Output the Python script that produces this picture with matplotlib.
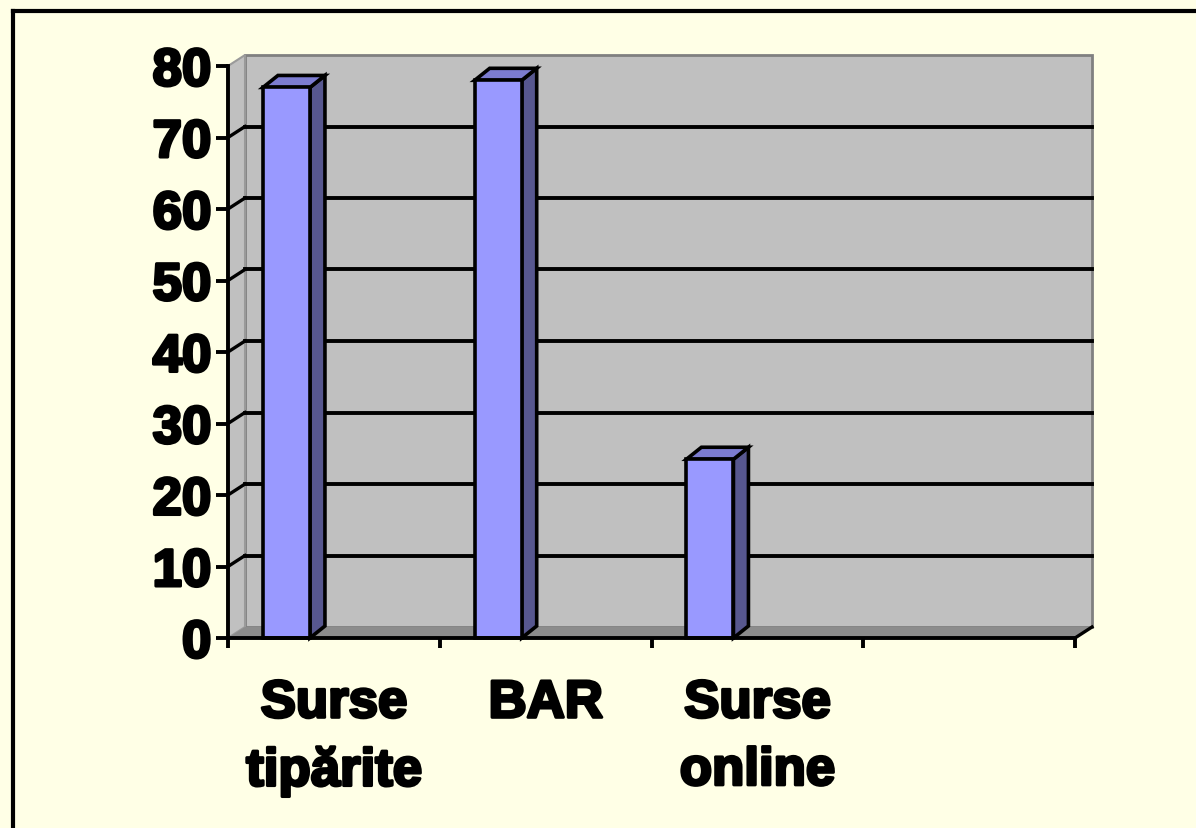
import matplotlib
matplotlib.use("Agg")
import matplotlib.pyplot as plt
import matplotlib.patheffects as pe
from matplotlib.patches import Polygon, Rectangle
from matplotlib.lines import Line2D

categories = ["Surse\ntipărite", "BAR", "Surse\nonline", ""]
values = [77, 78, 25]
y_ticks = [0, 10, 20, 30, 40, 50, 60, 70, 80]

BG = "#FFFFE6"
WALL = "#C0C0C0"
FLOOR = "#8C8C8C"
FRONT = "#9999FF"
SIDE = "#57578F"
TOP = "#7C7CD0"

W, H = 1196, 829
fig = plt.figure(figsize=(W / 100, H / 100), dpi=100, facecolor=BG)
ax = fig.add_axes([228 / W, 1 - 639 / H, (1075 - 228) / W, (639 - 67) / H])
ax.set_facecolor("none")
ax.set_xlim(0, 4)
ax.set_ylim(0, 80)

# depth offsets (data units)
wdx, wdy = 17 / 211.75, 11 / 7.15
bdx, bdy = 15 / 211.75, 12 / 7.15

# walls and floor
ax.add_patch(Polygon([(wdx, wdy), (4 + wdx, wdy), (4 + wdx, 80 + wdy), (wdx, 80 + wdy)],
                     closed=True, facecolor=WALL, edgecolor="#808080", lw=2,
                     clip_on=False, zorder=1))
ax.add_patch(Polygon([(0, 0), (wdx, wdy), (wdx, 80 + wdy), (0, 80)],
                     closed=True, facecolor=WALL, edgecolor="#9a9a9a", lw=1.5,
                     clip_on=False, zorder=1))
ax.add_patch(Polygon([(0, 0), (4, 0), (4 + wdx, wdy), (wdx, wdy)],
                     closed=True, facecolor=FLOOR, edgecolor="none",
                     clip_on=False, zorder=1.5))

# gridlines on back wall and left wall
for v in y_ticks[1:-1]:
    ax.plot([wdx, 4 + wdx], [v + wdy, v + wdy], color="black", lw=2.8,
            clip_on=False, zorder=2)
    ax.plot([0, wdx], [v, v + wdy], color="black", lw=2.4,
            clip_on=False, zorder=2)
ax.plot([4, 4 + wdx], [0, wdy], color="black", lw=2.4, clip_on=False, zorder=2)

# 3D bars
offset, width = 0.165, 0.222
for i, v in enumerate(values):
    x0 = i + offset
    x1 = x0 + width
    ax.add_patch(Polygon([(x1, 0), (x1 + bdx, bdy), (x1 + bdx, v + bdy), (x1, v)],
                         closed=True, facecolor=SIDE, edgecolor="black", lw=2.6,
                         clip_on=False, zorder=3))
    ax.add_patch(Polygon([(x0, v), (x1, v), (x1 + bdx, v + bdy), (x0 + bdx, v + bdy)],
                         closed=True, facecolor=TOP, edgecolor="black", lw=2.6,
                         clip_on=False, zorder=3))
    ax.add_patch(Rectangle((x0, 0), width, v, facecolor=FRONT, edgecolor="black",
                           lw=2.6, clip_on=False, zorder=4))

# axes
for s in ["top", "right"]:
    ax.spines[s].set_visible(False)
for s in ["left", "bottom"]:
    ax.spines[s].set_linewidth(2.8)
    ax.spines[s].set_zorder(5)

font = dict(family="Liberation Sans", weight="bold", size=38)
heavy = [pe.withStroke(linewidth=2.2, foreground="black")]

ax.set_yticks(y_ticks)
ax.set_yticklabels([str(t) for t in y_ticks], fontdict=font)
ax.tick_params(axis="y", length=9, width=2.8, pad=3)

ax.set_xticks([0, 1, 2, 3, 4])
ax.set_xticklabels([])
ax.tick_params(axis="x", which="major", length=7.5, width=2.8, direction="out")
ax.set_xticks([0.5, 1.5, 2.5, 3.5], minor=True)
ax.set_xticklabels(categories, minor=True, fontdict=font, linespacing=1.45)
ax.tick_params(axis="x", which="minor", length=0, pad=29)

for lab in ax.get_yticklabels() + ax.get_xticklabels(minor=True):
    lab.set_path_effects(heavy)

# outer frame
fig.add_artist(Line2D([13 / W, 13 / W], [0, 1 - 12 / H], color="black", lw=3,
                      transform=fig.transFigure))
fig.add_artist(Line2D([13 / W, 1], [1 - 12 / H, 1 - 12 / H], color="black", lw=3,
                      transform=fig.transFigure))

fig.savefig("out.png", dpi=100, facecolor=BG)
